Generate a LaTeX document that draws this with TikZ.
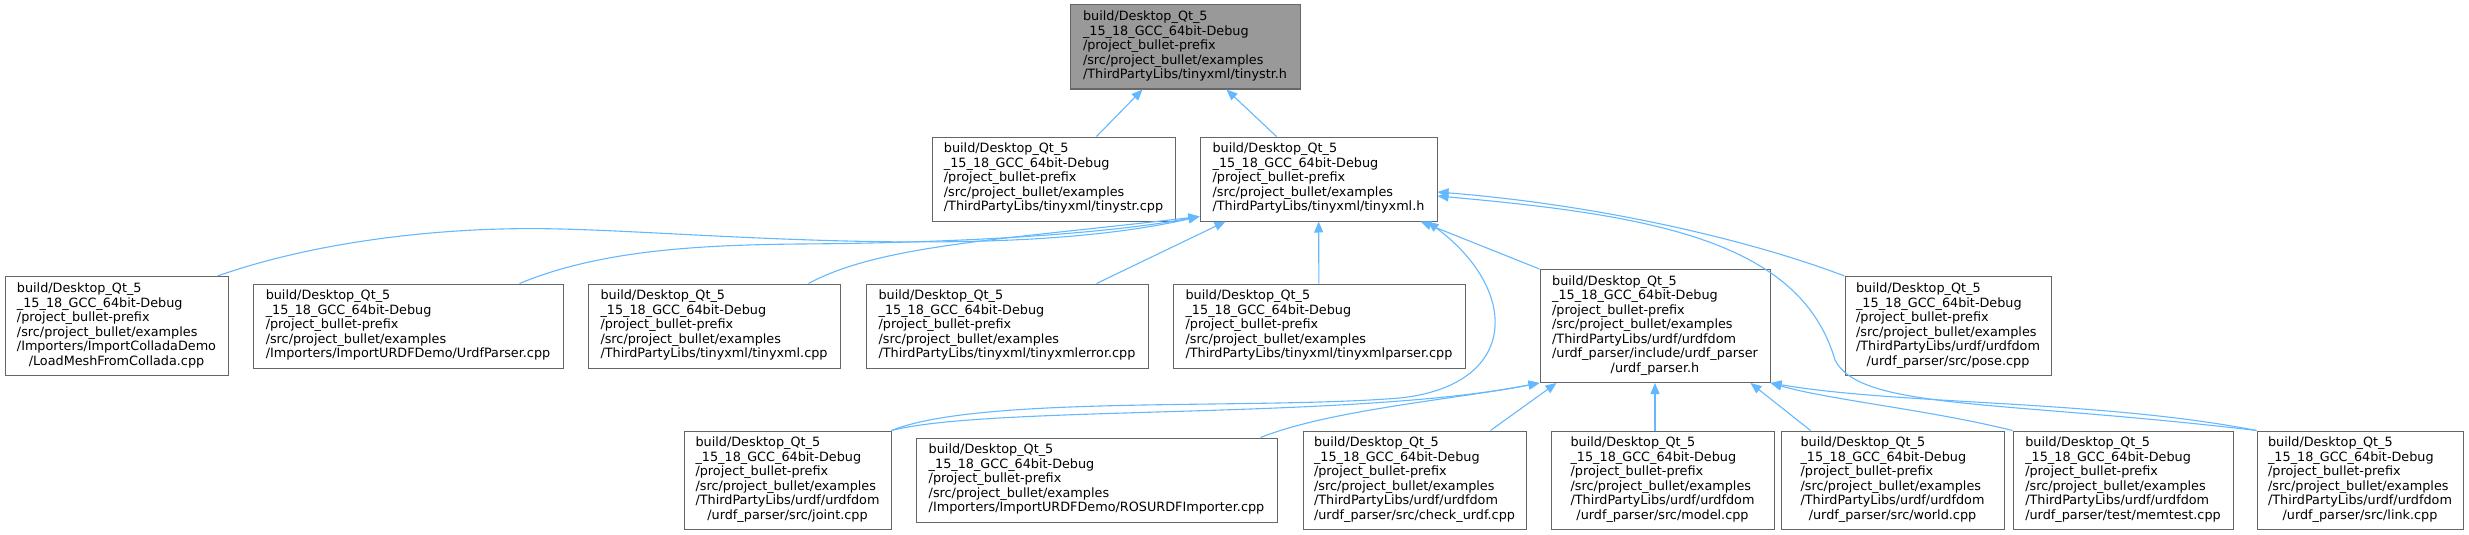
\documentclass[tikz,border=0pt]{standalone}
\usepackage{fontspec}
\setmainfont{DejaVu Sans}
\usetikzlibrary{arrows.meta}
\definecolor{boxgray}{HTML}{666666}
\definecolor{curgray}{HTML}{999999}
\definecolor{linkblue}{HTML}{63B8FF}
\newcommand{\pathhead}{build/Desktop\_Qt\_5\\\_15\_18\_GCC\_64bit-Debug\\/project\_bullet-prefix\\/src/project\_bullet/examples}
\newcommand{\flabel}[1]{\begin{tabular}{@{}l@{}}\pathhead\\#1\end{tabular}}
\newcommand{\lastc}[1]{\multicolumn{1}{@{}c@{}}{#1}}

\begin{document}
\begin{tikzpicture}[x=1pt, y=-1pt, font=\fontsize{12.8}{14.5}\selectfont,
  filebox/.style={draw=boxgray, fill=white, line width=1pt, inner sep=0pt},
  inclink/.style={draw=linkblue, line width=1.1pt, -{Triangle[length=11pt,width=9pt]}}]
\useasboundingbox (0,0) rectangle (2469,535);

\node[filebox, fill=curgray, minimum width=230pt, minimum height=84pt] (tinystrh) at (1185,47)
{\flabel{/ThirdPartyLibs/tinyxml/tinystr.h}};

\node[filebox, minimum width=243pt, minimum height=84pt] (tinystrcpp) at (1053.5,179)
{\flabel{/ThirdPartyLibs/tinyxml/tinystr.cpp}};
\node[filebox, minimum width=237pt, minimum height=84pt] (tinyxmlh) at (1318.5,179)
{\flabel{/ThirdPartyLibs/tinyxml/tinyxml.h}};

\node[filebox, minimum width=223pt, minimum height=99pt] (loadmesh) at (116.5,326)
{\flabel{/Importers/ImportColladaDemo\\\lastc{/LoadMeshFromCollada.cpp}}};
\node[filebox, minimum width=310pt, minimum height=84pt] (urdfparsercpp) at (408,326)
{\flabel{/Importers/ImportURDFDemo/UrdfParser.cpp}};
\node[filebox, minimum width=252pt, minimum height=84pt] (tinyxmlcpp) at (714,326)
{\flabel{/ThirdPartyLibs/tinyxml/tinyxml.cpp}};
\node[filebox, minimum width=282pt, minimum height=84pt] (tinyxmlerror) at (1007,326)
{\flabel{/ThirdPartyLibs/tinyxml/tinyxmlerror.cpp}};
\node[filebox, minimum width=292pt, minimum height=84pt] (tinyxmlparser) at (1319,326)
{\flabel{/ThirdPartyLibs/tinyxml/tinyxmlparser.cpp}};
\node[filebox, minimum width=230pt, minimum height=113pt] (urdfparserh) at (1655,326)
{\flabel{/ThirdPartyLibs/urdf/urdfdom\\/urdf\_parser/include/urdf\_parser\\\lastc{/urdf\_parser.h}}};
\node[filebox, minimum width=206pt, minimum height=99pt] (pose) at (1948,326)
{\flabel{/ThirdPartyLibs/urdf/urdfdom\\\lastc{/urdf\_parser/src/pose.cpp}}};

\node[filebox, minimum width=207pt, minimum height=98pt] (joint) at (787.5,480)
{\flabel{/ThirdPartyLibs/urdf/urdfdom\\\lastc{/urdf\_parser/src/joint.cpp}}};
\node[filebox, minimum width=361pt, minimum height=84pt] (rosurdf) at (1096.5,480)
{\flabel{/Importers/ImportURDFDemo/ROSURDFImporter.cpp}};
\node[filebox, minimum width=223pt, minimum height=98pt] (checkurdf) at (1414.5,480)
{\flabel{/ThirdPartyLibs/urdf/urdfdom\\/urdf\_parser/src/check\_urdf.cpp}};
\node[filebox, minimum width=223pt, minimum height=98pt] (model) at (1662.5,480)
{\flabel{/ThirdPartyLibs/urdf/urdfdom\\\lastc{/urdf\_parser/src/model.cpp}}};
\node[filebox, minimum width=223pt, minimum height=98pt] (world) at (1892.5,480)
{\flabel{/ThirdPartyLibs/urdf/urdfdom\\\lastc{/urdf\_parser/src/world.cpp}}};
\node[filebox, minimum width=220pt, minimum height=98pt] (memtest) at (2123,480)
{\flabel{/ThirdPartyLibs/urdf/urdfdom\\/urdf\_parser/test/memtest.cpp}};
\node[filebox, minimum width=206pt, minimum height=98pt] (link) at (2360,480)
{\flabel{/ThirdPartyLibs/urdf/urdfdom\\\lastc{/urdf\_parser/src/link.cpp}}};

\draw[inclink] ([xshift=165pt]tinystrcpp.north west) -- ([xshift=73pt]tinystrh.south west);
\draw[inclink] ([xshift=77pt]tinyxmlh.north west) -- ([xshift=157pt]tinystrh.south west);

\draw[inclink] ([xshift=213pt]loadmesh.north west) .. controls (320,240) and (450,226) .. (560,229) .. controls (700,232) and (1000,262) .. ([yshift=5pt]tinyxmlh.south west);
\draw[inclink] ([xshift=267pt]urdfparsercpp.north west) .. controls (600,250) and (700,245) .. (800,244) .. controls (950,243) and (1100,235) .. ([yshift=5pt]tinyxmlh.south west);
\draw[inclink] ([xshift=221pt]tinyxmlcpp.north west) .. controls (880,245) and (1000,240) .. ([yshift=5pt]tinyxmlh.south west);
\draw[inclink] ([xshift=231pt]tinyxmlerror.north west) -- ([xshift=26pt]tinyxmlh.south west);
\draw[inclink] (tinyxmlparser) -- (tinyxmlh);
\draw[inclink] (urdfparserh.north west) -- ([xshift=-17pt]tinyxmlh.south east);
\draw[inclink] (pose.north west) .. controls (1750,240) and (1600,205) .. ([yshift=-13pt]tinyxmlh.east);
\draw[inclink] (link.north west) .. controls (2000,400) and (1860,410) .. (1835,360) .. controls (1800,240) and (1650,215) .. ([yshift=-17pt]tinyxmlh.east);
\draw[inclink] (joint.north east) .. controls (980,395) and (1250,410) .. (1400,398) .. controls (1520,385) and (1520,290) .. ([xshift=-10pt]tinyxmlh.south east);

\draw[inclink] (joint.north east) .. controls (990,405) and (1350,420) .. (urdfparserh.south west);
\draw[inclink] ([xshift=-17pt]rosurdf.north east) .. controls (1330,410) and (1450,400) .. (urdfparserh.south west);
\draw[inclink] ([xshift=188pt]checkurdf.north west) -- ([xshift=17pt]urdfparserh.south west);
\draw[inclink] (model.north -| urdfparserh.south) -- (urdfparserh.south);
\draw[inclink] ([xshift=30pt]world.north west) -- ([xshift=-20pt]urdfparserh.south east);
\draw[inclink] (memtest.north west) .. controls (1930,410) and (1830,400) .. (urdfparserh.south east);
\draw[inclink] (link.north west) .. controls (2100,400) and (1900,405) .. (urdfparserh.south east);
\end{tikzpicture}
\end{document}
